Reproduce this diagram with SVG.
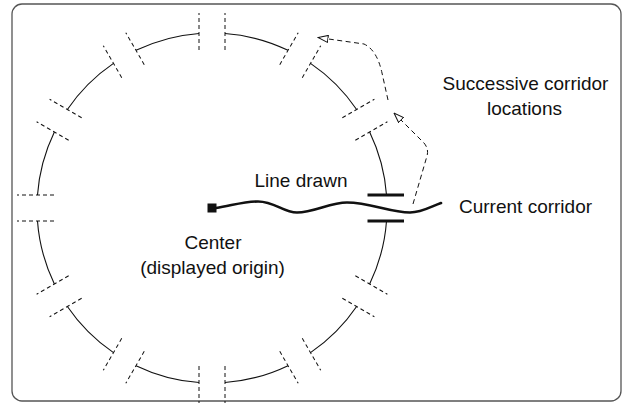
<svg xmlns="http://www.w3.org/2000/svg" xmlns:xlink="http://www.w3.org/1999/xlink" width="624" height="403" viewBox="0 0 624 403">
  <style>
    .arc { fill: none; stroke: #111; stroke-width: 1.1; }
    .tick { fill: none; stroke: #111; stroke-width: 1; stroke-dasharray: 4 3; }
    .bar { fill: none; stroke: #111; stroke-width: 3.2; }
    .flow { fill: none; stroke: #111; stroke-width: 1; stroke-dasharray: 5 3.5; }
    .lbl { font-family: "Liberation Sans", Arial, Helvetica, sans-serif; font-size: 19px; fill: #111; }
  </style>
  <defs>
    <marker id="openArrow" viewBox="0 0 11 8" refX="10.5" refY="4" markerWidth="11" markerHeight="8" markerUnits="userSpaceOnUse" orient="auto">
      <path d="M0.5,0.5 L10.5,4 L0.5,7.5 Z" fill="#fff" stroke="#111" stroke-width="1" stroke-dasharray="none"/>
    </marker>
    <path id="seg" class="arc" d="M386.52,195 A175,175 0 0 0 369.63,132.0"/>
    <g id="gapTicks">
      <line class="tick" x1="370" y1="195" x2="407" y2="195"/>
      <line class="tick" x1="370" y1="221" x2="407" y2="221"/>
    </g>
  </defs>

  <rect x="0" y="0" width="624" height="403" fill="#fff"/>
  <rect id="frame" x="12" y="4" width="609" height="397" rx="10" ry="10" fill="#fff" stroke="#555" stroke-width="1.3"/>

  <g id="ring">
    <use xlink:href="#seg" href="#seg"/>
    <use xlink:href="#seg" href="#seg" transform="rotate(-30 212 208)"/>
    <use xlink:href="#seg" href="#seg" transform="rotate(-60 212 208)"/>
    <use xlink:href="#seg" href="#seg" transform="rotate(-90 212 208)"/>
    <use xlink:href="#seg" href="#seg" transform="rotate(-120 212 208)"/>
    <use xlink:href="#seg" href="#seg" transform="rotate(-150 212 208)"/>
    <use xlink:href="#seg" href="#seg" transform="rotate(-180 212 208)"/>
    <use xlink:href="#seg" href="#seg" transform="rotate(-210 212 208)"/>
    <use xlink:href="#seg" href="#seg" transform="rotate(-240 212 208)"/>
    <use xlink:href="#seg" href="#seg" transform="rotate(-270 212 208)"/>
    <use xlink:href="#seg" href="#seg" transform="rotate(-300 212 208)"/>
    <use xlink:href="#seg" href="#seg" transform="rotate(-330 212 208)"/>
  </g>

  <g id="corridor-locations">
    <use xlink:href="#gapTicks" href="#gapTicks" transform="rotate(-30 212 208)"/>
    <use xlink:href="#gapTicks" href="#gapTicks" transform="rotate(-60 212 208)"/>
    <use xlink:href="#gapTicks" href="#gapTicks" transform="rotate(-90 212 208)"/>
    <use xlink:href="#gapTicks" href="#gapTicks" transform="rotate(-120 212 208)"/>
    <use xlink:href="#gapTicks" href="#gapTicks" transform="rotate(-150 212 208)"/>
    <use xlink:href="#gapTicks" href="#gapTicks" transform="rotate(-180 212 208)"/>
    <use xlink:href="#gapTicks" href="#gapTicks" transform="rotate(-210 212 208)"/>
    <use xlink:href="#gapTicks" href="#gapTicks" transform="rotate(-240 212 208)"/>
    <use xlink:href="#gapTicks" href="#gapTicks" transform="rotate(-270 212 208)"/>
    <use xlink:href="#gapTicks" href="#gapTicks" transform="rotate(-300 212 208)"/>
    <use xlink:href="#gapTicks" href="#gapTicks" transform="rotate(-330 212 208)"/>
  </g>

  <g id="current-corridor">
    <line class="bar" x1="367.5" y1="195" x2="404" y2="195"/>
    <line class="bar" x1="367.5" y1="221" x2="404" y2="221"/>
  </g>

  <g id="center">
    <rect x="207.5" y="203.5" width="9" height="9" fill="#111"/>
  </g>

  <g id="line-drawn">
    <path d="M216,208 C232,205.5 244,201.5 258,201.5 C275,201.5 283,212.5 297,212.5 C314,212.5 330,202.5 347,202.5 C370,202.5 390,212.5 410,212.5 C422,212.5 431,206.5 441,203" fill="none" stroke="#111" stroke-width="2.6" stroke-linecap="round"/>
  </g>

  <g id="connectors">
    <path class="flow" d="M413,204 L427,156 Q429,149 424,143 L394,113" marker-end="url(#openArrow)"/>
    <path class="flow" d="M388,100 L382,73 Q377,50 364,44 L318,37.5" marker-end="url(#openArrow)"/>
  </g>

  <g id="labels">
    <text class="lbl" x="301" y="187" text-anchor="middle">Line drawn</text>
    <text class="lbl" x="459" y="212.5">Current corridor</text>
    <text class="lbl" x="525.5" y="90" text-anchor="middle">Successive corridor</text>
    <text class="lbl" x="524.5" y="114.5" text-anchor="middle">locations</text>
    <text class="lbl" x="213" y="249" text-anchor="middle">Center</text>
    <text class="lbl" x="212.5" y="273.5" text-anchor="middle">(displayed origin)</text>
  </g>
</svg>
